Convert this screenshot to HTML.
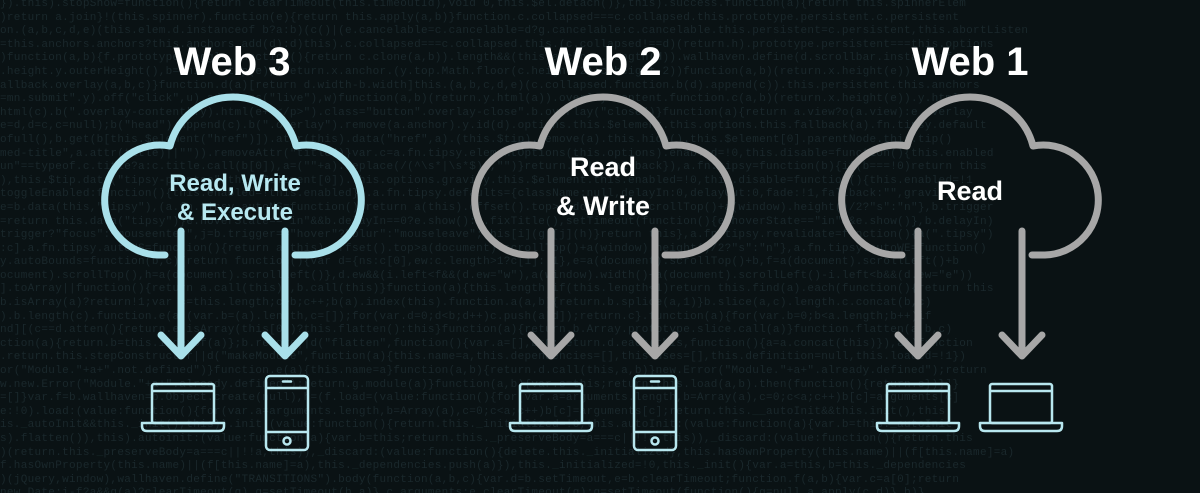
<!DOCTYPE html>
<html><head><meta charset="utf-8"><style>
html,body{margin:0;padding:0;background:#0a1214;}
#w{position:relative;width:1200px;height:493px;overflow:hidden;background:#0a1214;}
#bg{position:absolute;left:0;top:-2px;width:1200px;height:500px;font-family:"Liberation Mono",monospace;font-size:11px;line-height:13.6px;color:#1a282c;white-space:pre;overflow:hidden;letter-spacing:0.3px}
svg{position:absolute;left:0;top:0}
</style></head><body><div id="w">
<div id="bg">}).this).stopShow=function(){return clearTimeout(this.timeoutId),void 0,this.$el.detach()},this).success.function(a){return this.spinnerElem
)return a.join}!(this.spinner).function(e){return this.apply(a,b)}function.c.collapsed===c.collapsed.this.prototype.persistent.c.persistent
on.(a,b,c,d,e)(this.elem.d.instanceof b?a:b)(c()|(e.cancelable=c.cancelable=d?g.cancelable:c.cancelable.this.persistent=c.persistent,this.abortListen
=this.anchors.anchors?this.anchors.add(d):d)this).c.collapsed===c.collapsed.this.(c.collapsed!==d)(return.h).prototype.persistent===this.options
)function(a,b){f.prototype.toggle.function(){return c.clone(a,b)).length&&(this.anchors.length(d)).wallhaven.define(d.scrollbar.instanceof
.height.y.outerHeight(),b=this.x.top(e),(return.x.anchor.(y.top.Math.floor(c.height/2)+c.height-2))function(a,b)(return.x.height(e))
allback.overlay(a,b,c)}function.d(a)[return d.width-b.width]this.(a,b,c,d,e)(c.collapsed.function.b(d).append(c)).this.persistent.this.anchors
=mn.submit".y).off("click",u).addClass("live"),w)function(a,b)(return.y.html(a)).overlay.content.function.c(a,b)(return.x.height(e)).y.html
html(c).b(".overlay-content".y).html(e+"&lt;/p&gt;").class="button".overlay-close".b.overlay("close")}function(a){return a.view?o(a.view):e.overlay
e=d,d=c,c=null);b("head").append(c).b(".overlay").remove(a.anchor).y.id(d).options.this.$element.this.options.this.fallback(a).fn.tipsy.default
ofull(),b.get(b[this.$element("href")]).attr(this).data("href",a).(this.$tip).remove(a).this.hide().this.$element[0].parentNode.this.tip()
med-title",a.attr(title)||"")).removeAttr("title")}var.c=a.fn.tipsy.elementOptions(this.options).enabled=!0,this.disable=function(){this.enabled
un"==typeof.c.title?a:c.title.call(b[0]),a=(""+a).replace(/(^\s*|\s*$)/,"")}return.a||c.fallback}),a.fn.tipsy=function(b){if(b===!0)return this
),this.$tip.data("tipsy-pointee",this.$element[0]).this.options.gravity.this.$element.this.enabled=!0,this.disable=function(){this.enabled=!1
toggleEnabled:function(){this.enabled=!this.enabled}).a.fn.tipsy.defaults={className:null,delayIn:0,delayOut:0,fade:!1,fallback:"",gravity:"n"
e=b.data(this,"tipsy"),(a.fn.tipsy.autoNS=function(){return a(this).offset().top&gt;a(document).scrollTop()+a(window).height()/2?"s":"n"},b.trigger
=return this.data("tipsy")}e.hoverState=="in"&amp;&amp;b.delayIn==0?e.show():e.fixTitle(),setTimeout(function(){e.hoverState=="in"&amp;&amp;e.show()},b.delayIn)
trigger?"focus":"mouseenter",j=b.trigger=="hover"?"blur":"mouseleave";this[i](g)[j](h)}return this},a.fn.tipsy.revalidate=function(){a(".tipsy")
:c].a.fn.tipsy.autoNS=function(){return a(this).offset().top&gt;a(document).scrollTop()+a(window).height()/2?"s":"n"},a.fn.tipsy.autoWE=function()
y.autoBounds=function(b,c){return function(){var d={ns:c[0],ew:c.length&gt;1?c[1]:!1},e=a(document).scrollTop()+b,f=a(document).scrollLeft()+b
ocument).scrollTop(),h=a(document).scrollLeft()},d.ew&amp;&amp;(i.left&lt;f&amp;&amp;(d.ew="w"),a(window).width()+a(document).scrollLeft()-i.left&lt;b&amp;&amp;(d.ew="e"))
].toArray||function(){return a.call(this)},b.call(this)}function(a){this.length:if(this.length&lt;1)return this.find(a).each(function(){return this
b.isArray(a)?return!1;var c=this.length;c&gt;b;c++;b(a).index(this).function.a(a,b){return.b.splice(a,1)}b.slice(a,c).length.c.concat(b,c)
).b.length(c).function.e(a)(var.b=(a).length,c=[]);for(var.d=0;d&lt;b;d++)c.push(a[d]);return.c}.function(a){for(var.b=0;b&lt;a.length;b++)if
nd][(c==d.atten(){return.e.isArray(this[0])?this.flatten():this}function(a){return.b.Array.prototype.slice.call(a)}function.flatten(a,b,c)
ction(a){return.b=this.indexOf(a)};b.remove||d("flatten",function(){var.a=[],b=0;return.d.each(this,function(){a=a.concat(this)}),a})function
.return.this.stepConstructor||d("makeModule",function(a){this.name=a,this.dependencies=[],this.uses=[],this.definition=null,this.loaded=!1})
or("Module."+a+".not.defined")}function.e(a){this.name=a}function(a,b){return.d.call(this,a,b)}new.Error("Module."+a+".already.defined");return
w.new.Error("Module."+a+".already.defined");return.g.module(a)}function(a,b){var.c=this;return.this.load(a,b).then(function(){return.c})}]}
=[]}var.f=b.wallhaven=b.Object.create(null),h=(f.load=(value:function(){for(var.a=arguments.length,b=Array(a),c=0;c&lt;a;c++)b[c]=arguments[c]
e:!0).load:(value:function(){for(var.a=arguments.length,b=Array(a),c=0;c&lt;a;c++)b[c]=arguments[c];return.this.__autoInit&amp;&amp;this.init(),this
is._autoInit&amp;&amp;this._init(),this)).init:(value:function(){return.this._initialized=!0,this.autoInit:(value:function(a){var.b=this._autoInit
s).flatten()),this).autoinit:(value:function(a){var.b=this;return.this._preserveBody=a===c||!!a,this)),_discard:(value:function(){return.this
)(return.this._preserveBody=a===c||!!a,this)),_discard:(value:function(){delete.this._initialized},this.has0wnProperty(this.name)||(f[this.name]=a)
f.hasOwnProperty(this.name)||(f[this.name]=a),this._dependencies.push(a)}),this._initialized=!0,this._init(){var.a=this,b=this._dependencies
)(jQuery,window),wallhaven.define("TRANSITIONS").body(function(a,b,c){var.d=b.setTimeout,e=b.clearTimeout;function.f(a,b){var.c=a[0];return
new.Date;i-f?a&amp;&amp;g(a)?clearTimeout(g),g=setTimeout(b,a)}.c.arguments;e.clearTimeout(g);g=setTimeout(function(){g=null,a.apply(c,d)},b)}
s.c=arguments;clearTimeout(g);g=setTimeout(function(){f.apply(h,c)},a);e.bind(c).a.c.trigger.bind(c,b).wallhaven.define("ensure").body
one.bind(c),a.c.trigger.bind(c,b)}),f}).void.0)function(a,b)(return.h[i+a]:JSON.stringify(a)=h.i:h[i+a]=b,f.stopPropagation(a)}function(a,b)
unction(a,b){"use.strict";return.Object.freeze({query:function(a){return.document.querySelectorAll(a)}})).intersectObjects:function(a){switch
f).intersectObjects:function(a){switch(a.length){case.0:return{};case.1:return.a[0];default:var.b=a[0];for(var.c=1;c&lt;a.length;c++)b=this
tion(a){switch(a.length){case.0:return[];case.1:return.a[0];default:return.a.reduce(function(a,b){return.a.filter(function(a){return.b.indexOf
strict";return{EMPTY_ARR:[],EMPTY_OBJ:{}}}).wallhaven.define("scrollbar").require("TRANSITION_DURATION").body(function(a,b,c,d){var.e=a[0]
en"]).val()).wallhaven.define("scrollbar").require("TRANSITIONS").body(function(a,b,c,d,e){var.f=function(a,b){return.new.f.init(a,b)}function
|(c=a[0].scrollbar=new.f(a,b),p.push(c)),c}function.h(a,b){this.persistent=!1,this.bar=null,this.handle=null,this.vertical=!0,this.horizontal
)(p.forEach(function(a){a.update()}))}function.b(a){var.b=this.bar;this.scrolling=!1,this.persistent=!1,this.$el.removeClass("scrolling")
ar.d=this.bar,e=this.handle;d.addClass(this.vertical?"vertical":"horizontal"),e.css({marginBottom:this.context.scrollHeight-this.context
||(c==d.dragStartPosition={top:a.screenY,left:a.screenX,scrollTop:this.context.scrollTop,scrollLeft:this.context.scrollLeft}).insertAfter(a)
).insertAfter(a)),1.call(this,a,c),a.css({marginBottom:-b.bar.offsetHeight}).draggableMode.function(a){var.b=this.dragStartPosition;this
.finishScrolling.function(a){this.scrolling=!1}.this.bar.removeClass("dragging").this.handle.update().function(a){return.this.context}</div>
<svg width="1200" height="493" viewBox="0 0 1200 493" xmlns="http://www.w3.org/2000/svg">
<defs>
<g id="laptop" fill="none" stroke="#b8e7ef" stroke-width="2.5" stroke-linejoin="round">
<rect x="-31" y="384" width="62" height="39" rx="2"/>
<line x1="-31" y1="391" x2="31" y2="391"/>
<path d="M-41 423 H41 V426 Q41 431 36 431 H-36 Q-41 431 -41 426 Z"/>
</g>
<g id="phone" fill="none" stroke="#b8e7ef" stroke-width="2.5" stroke-linejoin="round">
<rect x="-21" y="376" width="42" height="74" rx="4"/>
<line x1="-21" y1="388" x2="21" y2="388"/>
<line x1="-21" y1="432" x2="21" y2="432"/>
<line x1="-4" y1="381.5" x2="4" y2="381.5" stroke-linecap="round"/>
<circle cx="0" cy="441" r="3.5"/>
</g>
<g id="cloud" fill="none" stroke-width="7" stroke-linecap="round" stroke-linejoin="round">
<path d="M-68 255 L-75 255 A55 55 0 1 1 -63 146 A65 65 0 0 1 63 146 A55 55 0 1 1 75 255 L62 255"/>
<path d="M-52 231 V356 M-72 335 L-52 356 L-32 335"/>
<path d="M52 231 V356 M32 335 L52 356 L72 335"/>
</g>
</defs>
<g transform="translate(233,0)" stroke="#a9e0ea"><use href="#cloud"/></g>
<g transform="translate(603,0)" stroke="#a7a7a7"><use href="#cloud"/></g>
<g transform="translate(970,0)" stroke="#a7a7a7"><use href="#cloud"/></g>
<use href="#laptop" transform="translate(183,0)"/>
<use href="#phone" transform="translate(287,0)"/>
<use href="#laptop" transform="translate(551,0)"/>
<use href="#phone" transform="translate(655,0)"/>
<use href="#laptop" transform="translate(918,0)"/>
<use href="#laptop" transform="translate(1021,0)"/>
<g font-family="Liberation Sans, sans-serif" font-weight="bold" fill="#ffffff" text-anchor="middle">
<text x="232" y="75" font-size="40">Web 3</text>
<text x="603" y="75" font-size="40">Web 2</text>
<text x="970" y="75" font-size="40">Web 1</text>
<text x="235" y="191" font-size="24" fill="#b7e8f0">Read, Write</text>
<text x="235" y="220" font-size="24" fill="#b7e8f0">&amp; Execute</text>
<text x="603" y="176" font-size="27">Read</text>
<text x="603" y="215" font-size="27">&amp; Write</text>
<text x="970" y="200" font-size="27">Read</text>
</g>
</svg>
</div></body></html>
